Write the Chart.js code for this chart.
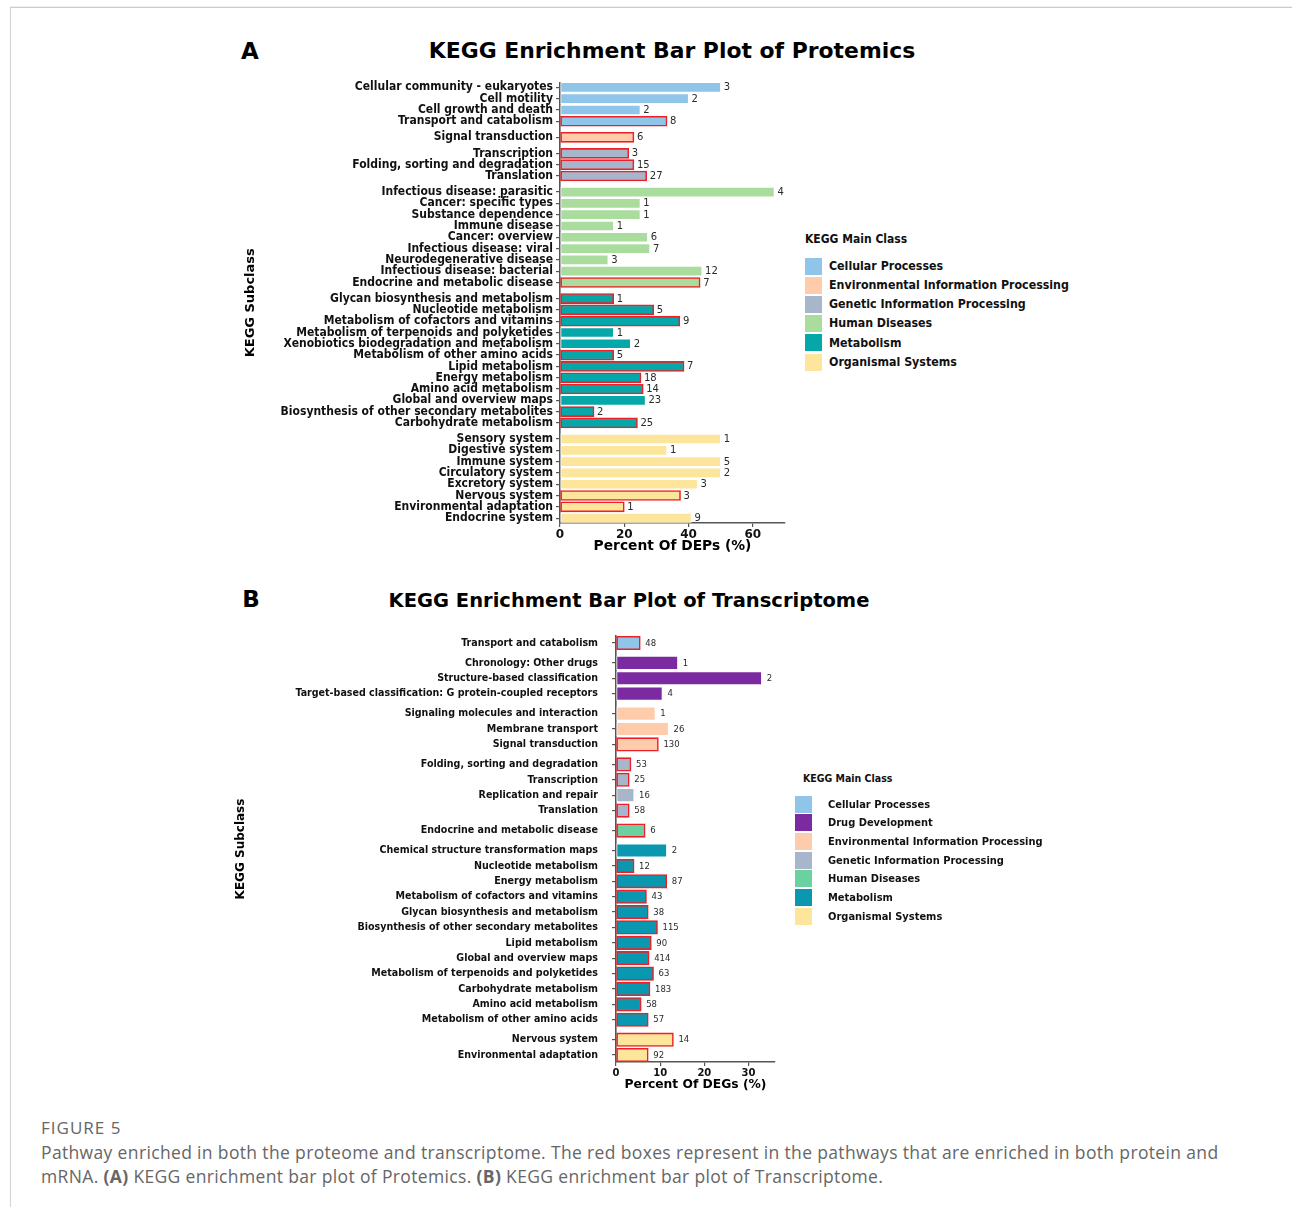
<!DOCTYPE html>
<html><head><meta charset="utf-8">
<script src="https://cdn.jsdelivr.net/npm/chart.js@4.4.1/dist/chart.umd.min.js"></script>
<style>
html,body{margin:0;padding:0;background:#fff;}
body{width:1292px;height:1207px;position:relative;overflow:hidden;font-family:'DejaVu Sans',sans-serif;}
#frame{position:absolute;left:10px;top:7px;width:1300px;height:1220px;border-top:1px solid #cccccc;border-left:1px solid #d4d4d4;box-shadow:0 -1px 1px rgba(0,0,0,0.06);}
.panel{position:absolute;font-weight:bold;color:#000;line-height:1;transform:translate(-50%,-50%);font-size:23px;}
.title{position:absolute;font-weight:bold;color:#000;white-space:nowrap;line-height:1;transform:translate(-50%,-50%);}
.cv{position:absolute;}
.lg{position:absolute;font-family:'DejaVu Sans Condensed','DejaVu Sans',sans-serif;font-weight:bold;color:#111;white-space:nowrap;line-height:1;}
.sw{position:absolute;}
#caption{position:absolute;left:41px;top:1116px;font-family:'Open Sans','Noto Sans',sans-serif;font-size:17.5px;line-height:24px;color:#666;white-space:nowrap;letter-spacing:0.35px;}
#caption .fig{font-size:17px;font-weight:500;letter-spacing:1px;}
</style>
</head><body>
<div id="frame"></div>
<div class="panel" style="left:250px;top:51px;">A</div>
<div class="title" style="left:672px;top:51px;font-size:21.9px;">KEGG Enrichment Bar Plot of Protemics</div>
<div class="panel" style="left:251px;top:599px;">B</div>
<div class="title" style="left:629px;top:601px;font-size:19.5px;">KEGG Enrichment Bar Plot of Transcriptome</div>
<canvas id="chartA" class="cv" width="570" height="500" style="left:230px;top:70px;width:570px;height:500px;"></canvas>
<canvas id="chartB" class="cv" width="570" height="475" style="left:230px;top:625px;width:570px;height:475px;"></canvas>
<div id="legendA"></div>
<div id="legendB"></div>
<div id="caption"><div class="fig">FIGURE 5</div><div>Pathway enriched in both the proteome and transcriptome. The red boxes represent in the pathways that are enriched in both protein and</div><div>mRNA. <b>(A)</b> KEGG enrichment bar plot of Protemics. <b>(B)</b> KEGG enrichment bar plot of Transcriptome.</div></div>
<script>
// ---------------- DATA ----------------
const CP = "Cellular Processes", DD = "Drug Development", EIP = "Environmental Information Processing",
      GIP = "Genetic Information Processing", HD = "Human Diseases", MET = "Metabolism", OS = "Organismal Systems";

const protCategories = ["Cellular community - eukaryotes","Cell motility","Cell growth and death","Transport and catabolism",
 "Signal transduction",
 "Transcription","Folding, sorting and degradation","Translation",
 "Infectious disease: parasitic","Cancer: specific types","Substance dependence","Immune disease","Cancer: overview","Infectious disease: viral","Neurodegenerative disease","Infectious disease: bacterial","Endocrine and metabolic disease",
 "Glycan biosynthesis and metabolism","Nucleotide metabolism","Metabolism of cofactors and vitamins","Metabolism of terpenoids and polyketides","Xenobiotics biodegradation and metabolism","Metabolism of other amino acids","Lipid metabolism","Energy metabolism","Amino acid metabolism","Global and overview maps","Biosynthesis of other secondary metabolites","Carbohydrate metabolism",
 "Sensory system","Digestive system","Immune system","Circulatory system","Excretory system","Nervous system","Environmental adaptation","Endocrine system"];
const protClasses = [CP,CP,CP,CP, EIP, GIP,GIP,GIP, HD,HD,HD,HD,HD,HD,HD,HD,HD,
 MET,MET,MET,MET,MET,MET,MET,MET,MET,MET,MET,MET, OS,OS,OS,OS,OS,OS,OS,OS];
const protPercent = [50,40,25,33.3, 23, 21.4,23,27, 66.7,25,25,16.7,27.3,28,15,44.2,43.6,
 16.7,29.2,37.3,16.7,22,16.7,38.6,25.2,25.9,26.6,10.6,24.1, 50,33.3,50,50,42.8,37.5,20,40.9];
const protCounts = [3,2,2,8, 6, 3,15,27, 4,1,1,1,6,7,3,12,7, 1,5,9,1,2,5,7,18,14,23,2,25, 1,1,5,2,3,3,1,9];
const protShared = [0,0,0,1, 1, 1,1,1, 0,0,0,0,0,0,0,0,1, 1,1,1,0,0,1,1,1,1,0,1,1, 0,0,0,0,0,1,1,0];
const protXTicks = [0,20,40,60];
const protLegend = [CP,EIP,GIP,HD,MET,OS];

const transCategories = ["Transport and catabolism",
 "Chronology: Other drugs","Structure-based classification","Target-based classification: G protein-coupled receptors",
 "Signaling molecules and interaction","Membrane transport","Signal transduction",
 "Folding, sorting and degradation","Transcription","Replication and repair","Translation",
 "Endocrine and metabolic disease",
 "Chemical structure transformation maps","Nucleotide metabolism","Energy metabolism","Metabolism of cofactors and vitamins","Glycan biosynthesis and metabolism","Biosynthesis of other secondary metabolites","Lipid metabolism","Global and overview maps","Metabolism of terpenoids and polyketides","Carbohydrate metabolism","Amino acid metabolism","Metabolism of other amino acids",
 "Nervous system","Environmental adaptation"];
const transClasses = [CP, DD,DD,DD, EIP,EIP,EIP, GIP,GIP,GIP,GIP, HD,
 MET,MET,MET,MET,MET,MET,MET,MET,MET,MET,MET,MET, OS,OS];
const transPercent = [5.5, 14,33,10.5, 8.9,11.9,9.6, 3.4,3.0,4.1,3.0, 6.6,
 11.5,4.1,11.5,6.9,7.3,9.4,8.0,7.5,8.5,7.7,5.7,7.3, 13.0,7.3];
const transCounts = [48, 1,2,4, 1,26,130, 53,25,16,58, 6, 2,12,87,43,38,115,90,414,63,183,58,57, 14,92];
const transShared = [1, 0,0,0, 0,0,1, 1,1,0,1, 1, 0,1,1,1,1,1,1,1,1,1,1,1, 1,1];
const transXTicks = [0,10,20,30];
const transLegend = [CP,DD,EIP,GIP,HD,MET,OS];

// ---------------- STYLES ----------------
const colorsA = {[CP]:'#8ec5e9',[EIP]:'#fecbab',[GIP]:'#a7b6cb',[HD]:'#a9dc9d',[MET]:'#06a7a8',[OS]:'#fde59c'};
const colorsB = {[CP]:'#8ec5e9',[DD]:'#7b2aa0',[EIP]:'#fecbab',[GIP]:'#a7b6cb',[HD]:'#6cd1a1',[MET]:'#0a98b0',[OS]:'#fde59c'};
const RED = '#ee1f26';
const LABEL_FAMILY = "'DejaVu Sans Condensed', 'DejaVu Sans', sans-serif";
const AXIS_FAMILY = "'DejaVu Sans', sans-serif";

function rowPositions(classes, gap) {
  const pos = []; let g = 0;
  classes.forEach((c, i) => { if (i > 0 && c !== classes[i-1]) g++; pos.push(i + g * gap); });
  return pos;
}

const countLabels = {
  id: 'countLabels',
  afterDatasetsDraw(chart, args, opts) {
    const ctx = chart.ctx, meta = chart.getDatasetMeta(0);
    ctx.save();
    ctx.font = opts.font; ctx.fillStyle = opts.color;
    ctx.textAlign = 'left'; ctx.textBaseline = 'middle';
    meta.data.forEach((el, i) => ctx.fillText(String(opts.counts[i]), el.x + opts.offset, el.y + 0.5));
    ctx.restore();
  }
};

function makeChart(id, s) {
  const pos = rowPositions(s.classes, s.gap);
  const data = s.values.map((v, i) => ({x: v, y: pos[i]}));
  return new Chart(document.getElementById(id), {
    type: 'bar',
    data: { datasets: [{
      data,
      backgroundColor: s.classes.map(c => s.colors[c]),
      borderColor: s.shared.map(f => f ? RED : 'rgba(255,255,255,0.55)'),
      borderWidth: s.shared.map(f => f ? 1.6 : 1),
      borderSkipped: false,
      barThickness: s.barThickness
    }]},
    options: {
      indexAxis: 'y', responsive: false, animation: false, devicePixelRatio: 1,
      layout: { padding: s.padding },
      plugins: { legend: {display: false}, tooltip: {enabled: false},
        countLabels: { counts: s.counts, font: s.countFont, color: '#2a2a2a', offset: s.countOffset } },
      scales: {
        y: {
          type: 'linear', reverse: true, offset: false,
          min: -s.edge, max: pos[pos.length-1] + s.edge,
          afterBuildTicks: ax => { ax.ticks = pos.map(v => ({value: v})); },
          afterFit: ax => { ax.width = s.yWidth; ax.paddingTop = 0; ax.paddingBottom = 0; },
          ticks: { autoSkip: false, padding: s.yPad, color: '#111',
            font: {family: LABEL_FAMILY, size: s.labelSize, weight: 'bold'},
            callback: (v, i) => s.categories[i] },
          grid: { drawOnChartArea: false, drawTicks: true, tickLength: 4, color: '#555', lineWidth: 1.2, offset: false },
          border: { display: true, color: '#555', width: 1.6 },
          title: { display: true, text: 'KEGG Subclass', color: '#000',
            font: {family: AXIS_FAMILY, size: s.yTitleSize, weight: 'bold'}, padding: {top: s.yTitlePad, bottom: 0} }
        },
        x: {
          type: 'linear', position: 'bottom', min: 0, max: s.xMax,
          afterBuildTicks: ax => { ax.ticks = s.xTicks.map(v => ({value: v})); },
          afterFit: ax => { ax.height = s.xHeight; },
          ticks: { padding: 1, color: '#111', font: {family: AXIS_FAMILY, size: s.xTickSize, weight: 'bold'} },
          grid: { drawOnChartArea: false, drawTicks: true, tickLength: 4, color: '#555', lineWidth: 1.2 },
          border: { display: true, color: '#555', width: 1.6 },
          title: { display: true, text: s.xTitle, color: '#000',
            font: {family: AXIS_FAMILY, size: s.xTitleSize, weight: 'bold'}, padding: {top: 0, bottom: s.xTitlePad} }
        }
      }
    },
    plugins: [countLabels]
  });
}

makeChart('chartA', {
  categories: protCategories, classes: protClasses, values: protPercent, counts: protCounts, shared: protShared,
  colors: colorsA, gap: 0.42, edge: 0.43, barThickness: 10,
  padding: {left: 0, right: 15, top: 12.5, bottom: 0},
  yWidth: 330, yPad: 3, labelSize: 12, yTitleSize: 13, yTitlePad: 13,
  xMax: 70, xTicks: protXTicks, xHeight: 47, xTickSize: 12, xTitle: 'Percent Of DEPs (%)', xTitleSize: 13.8, xTitlePad: 15,
  countFont: "10px 'DejaVu Sans', sans-serif", countOffset: 3
});
makeChart('chartB', {
  categories: transCategories, classes: transClasses, values: transPercent, counts: transCounts, shared: transShared,
  colors: colorsB, gap: 0.3, edge: 0.45, barThickness: 13.5,
  padding: {left: 0, right: 25, top: 11, bottom: 0},
  yWidth: 386, yPad: 14, labelSize: 10.6, yTitleSize: 12, yTitlePad: 4,
  xMax: 36, xTicks: transXTicks, xHeight: 38, xTickSize: 10, xTitle: 'Percent Of DEGs (%)', xTitleSize: 12.3, xTitlePad: 8,
  countFont: "8.5px 'DejaVu Sans', sans-serif", countOffset: 5
});

function makeLegend(id, s) {
  const root = document.getElementById(id);
  let html = `<div class="lg" style="left:${s.left}px;top:${s.titleY - s.titleSize*0.5}px;font-size:${s.titleSize}px;">KEGG Main Class</div>`;
  s.items.forEach((name, i) => {
    const cy = s.firstY + i * s.step;
    html += `<div class="sw" style="left:${s.swLeft}px;top:${cy - s.sw/2}px;width:${s.sw}px;height:${s.sw}px;background:${s.colors[name]};"></div>`;
    html += `<div class="lg" style="left:${s.textLeft}px;top:${cy - s.size*0.5}px;font-size:${s.size}px;">${name}</div>`;
  });
  root.innerHTML = html;
}
makeLegend('legendA', {items: protLegend, colors: colorsA, left: 805, titleY: 239, titleSize: 12,
  swLeft: 805, sw: 17, firstY: 266, step: 19.2, textLeft: 829, size: 12.3});
makeLegend('legendB', {items: transLegend, colors: colorsB, left: 803, titleY: 778, titleSize: 10.5,
  swLeft: 795, sw: 17, firstY: 804, step: 18.7, textLeft: 828, size: 11});
</script>
</body></html>
